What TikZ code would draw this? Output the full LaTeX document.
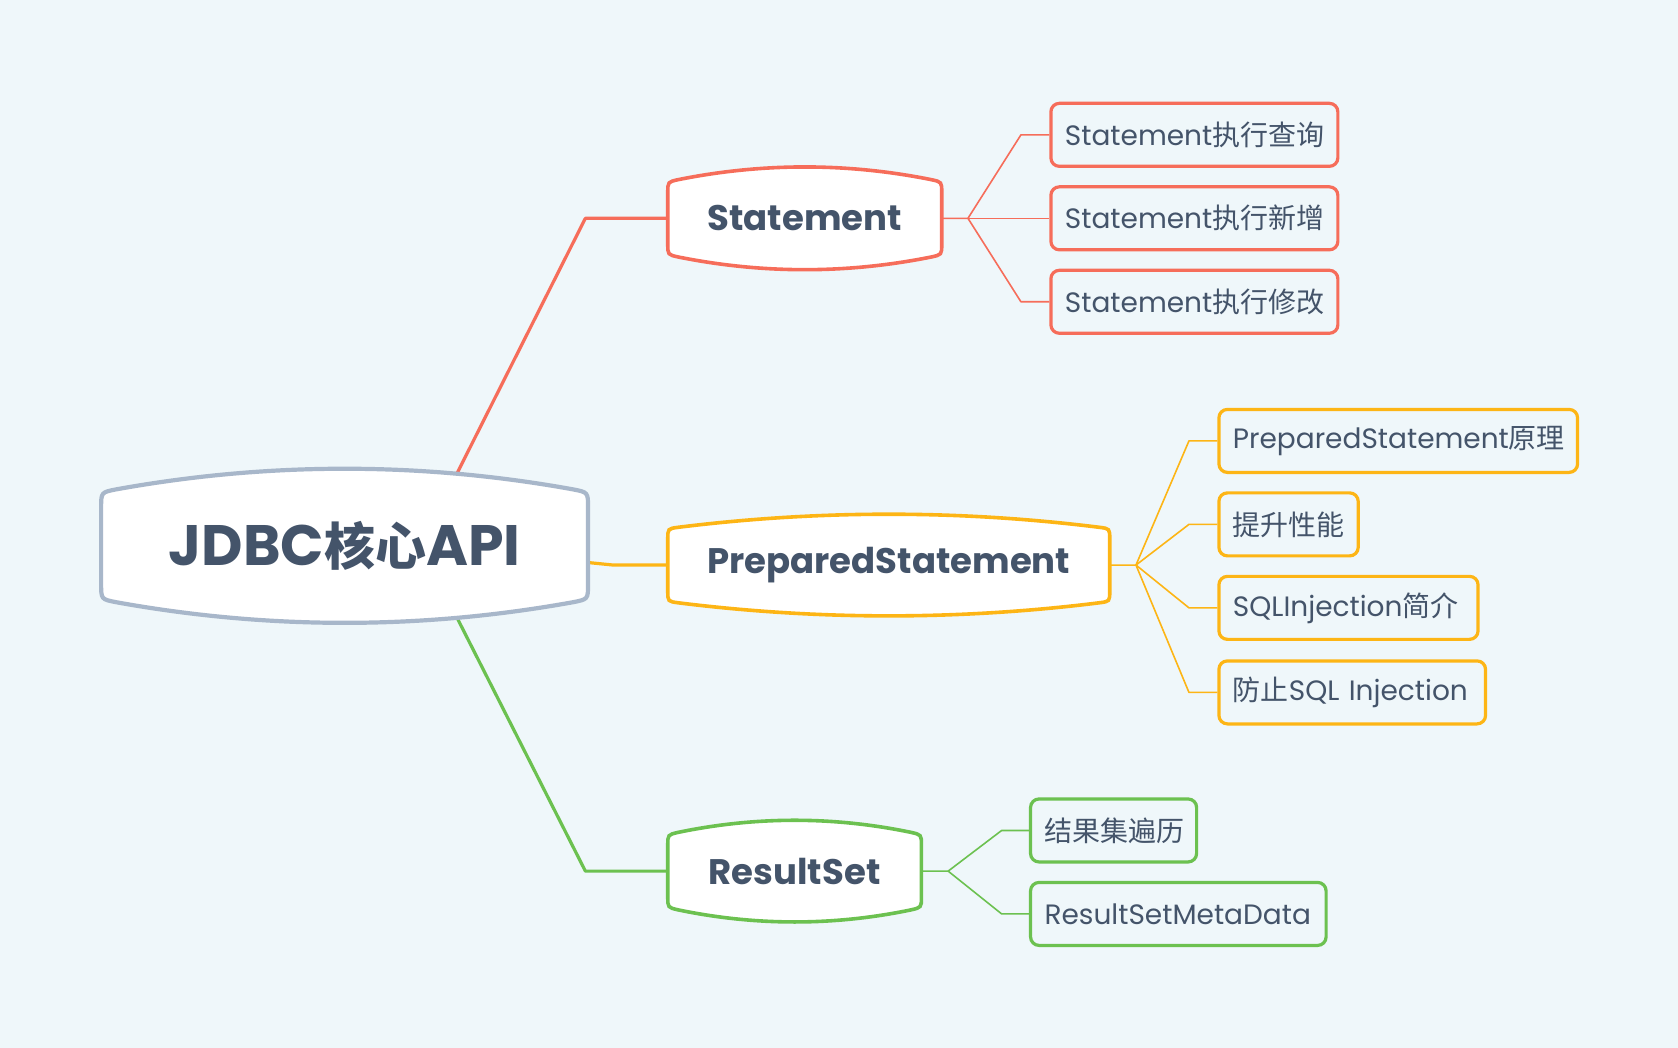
\documentclass[tikz,border=0pt]{standalone}
\usepackage{fontspec}
\setmainfont{Poppins}
\newfontfamily\cjk{Noto Sans CJK SC}
\definecolor{bgc}{HTML}{EFF7FA}
\definecolor{txt}{HTML}{44546A}
\definecolor{rootc}{HTML}{A8B7CA}
\definecolor{redc}{HTML}{F66D5A}
\definecolor{orac}{HTML}{FDB515}
\definecolor{grnc}{HTML}{6CC150}
\pgfdeclarelayer{back}
\pgfdeclarelayer{lines}
\pgfsetlayers{back,lines,main}
\tikzset{
  mainline/.style={line width=3.2pt, line join=round},
  subline/.style={line width=1.6pt, line join=round},
  leafbox/.style={rounded corners=8.5pt, line width=3.2pt, minimum height=63pt,
    inner xsep=14pt, inner ysep=0pt, align=left, text=txt, font=\fontsize{28}{32}\selectfont},
  rootbox/.style={draw=rootc, fill=white, line width=4.2pt},
  midbox/.style={fill=white, line width=3.6pt},
  roottext/.style={text=txt, font=\fontsize{57}{62}\selectfont\bfseries},
  midtext/.style={text=txt, font=\fontsize{35.5}{40}\selectfont\bfseries}
}
% name, cx, cy, hw, hs, bulge, drawstyle, textstyle, text
\newcommand\bnode[9]{%
  \pgfmathsetmacro\bL{#2-#4}\pgfmathsetmacro\bR{#2+#4}%
  \pgfmathsetmacro\bT{#3-#5}\pgfmathsetmacro\bB{#3+#5}%
  \pgfmathsetmacro\br{#5*0.29}%
  \pgfmathsetmacro\bd{2*#6*\br/#4}%
  \pgfmathsetmacro\bc{(2*#4-2*\br)/3}%
  \pgfmathsetmacro\bh{1.3333*(#6-\bd)}%
  \draw[#7] (\bL,{\bB-\br}) -- (\bL,{\bT+\br})
    .. controls (\bL,\bT) .. ({\bL+\br},{\bT-\bd})
    .. controls ({\bL+\br+\bc},{\bT-\bd-\bh}) and ({\bR-\br-\bc},{\bT-\bd-\bh}) .. ({\bR-\br},{\bT-\bd})
    .. controls (\bR,\bT) .. (\bR,{\bT+\br}) -- (\bR,{\bB-\br})
    .. controls (\bR,\bB) .. ({\bR-\br},{\bB+\bd})
    .. controls ({\bR-\br-\bc},{\bB+\bd+\bh}) and ({\bL+\br+\bc},{\bB+\bd+\bh}) .. ({\bL+\br},{\bB+\bd})
    .. controls (\bL,\bB) .. (\bL,{\bB-\br}) -- cycle;
  \pgfmathsetmacro\bw{2*#4*1.0702}\pgfmathsetmacro\bhh{2*#5*1.0702}%
  \node[#8, inner sep=0pt, minimum width=\bw pt, minimum height=\bhh pt] (#1) at (#2,#3) {#9};
}
% name, x, cy, w, color, text
\newcommand\leaf[6]{%
  \pgfmathsetmacro\tw{(#4-29)*1.0702}%
  \node[leafbox, draw=#5, text width=\tw pt, anchor=west] (#1) at ({#2+1.5},#3) {#6};
}
\begin{document}
\begin{tikzpicture}[x=1.0702pt, y=-1.0702pt]
\begin{pgfonlayer}{back}
\fill[bgc] (0,0) rectangle (1568,979);
\end{pgfonlayer}
\useasboundingbox (0,0) rectangle (1568,979);

% main nodes
\bnode{root}{322}{510}{227.5}{50}{22}{rootbox}{roottext}{JDBC{\cjk\fontsize{51}{60}\selectfont 核心}API}
\bnode{S}{752}{204}{128}{34}{14}{midbox, draw=redc}{midtext}{Statement}
\bnode{P}{830.5}{528}{206.5}{34}{13.5}{midbox, draw=orac}{midtext}{PreparedStatement}
\bnode{R}{742.5}{814}{118.5}{34}{13.5}{midbox, draw=grnc}{midtext}{ResultSet}

% leaves
\leaf{S1}{979}{126}{271}{redc}{Statement{\cjk 执行查询}}
\leaf{S2}{979}{204}{271}{redc}{Statement{\cjk 执行新增}}
\leaf{S3}{979}{282}{271}{redc}{Statement{\cjk 执行修改}}
\leaf{P1}{1136}{412}{338}{orac}{PreparedStatement{\cjk 原理}}
\leaf{P2}{1136}{490}{133}{orac}{{\cjk 提升性能}}
\leaf{P3}{1136}{568}{245}{orac}{SQLInjection{\cjk 简介}}
\leaf{P4}{1136}{647}{252}{orac}{{\cjk 防止}SQL Injection}
\leaf{R1}{960}{776}{158}{grnc}{{\cjk 结果集遍历}}
\leaf{R2}{960}{854}{279}{grnc}{ResultSetMetaData}

% connectors
\coordinate (rc) at (393,510);
\coordinate (eS) at (547,204);
\coordinate (eP) at (573,528);
\coordinate (eR) at (547,814);
\coordinate (jS) at (904.5,204);
\coordinate (kS1) at (954,126);
\coordinate (kS3) at (954,282);
\coordinate (jP) at (1061.5,528);
\coordinate (kP1) at (1111,412);
\coordinate (kP2) at (1111,490);
\coordinate (kP3) at (1111,568);
\coordinate (kP4) at (1111,647);
\coordinate (jR) at (886,814);
\coordinate (kR1) at (936,776);
\coordinate (kR2) at (936,854);
\begin{pgfonlayer}{lines}
\draw[mainline, redc] (rc) -- (eS) -- (S.west);
\draw[mainline, orac] (rc) -- (eP) -- (P.west);
\draw[mainline, grnc] (rc) -- (eR) -- (R.west);
\draw[subline, redc] (S.east) -- (jS) -- (kS1) -- (S1.west);
\draw[subline, redc] (jS) -- (S2.west);
\draw[subline, redc] (jS) -- (kS3) -- (S3.west);
\draw[subline, orac] (P.east) -- (jP) -- (kP1) -- (P1.west);
\draw[subline, orac] (jP) -- (kP2) -- (P2.west);
\draw[subline, orac] (jP) -- (kP3) -- (P3.west);
\draw[subline, orac] (jP) -- (kP4) -- (P4.west);
\draw[subline, grnc] (R.east) -- (jR) -- (kR1) -- (R1.west);
\draw[subline, grnc] (jR) -- (kR2) -- (R2.west);
\end{pgfonlayer}
\end{tikzpicture}
\end{document}
